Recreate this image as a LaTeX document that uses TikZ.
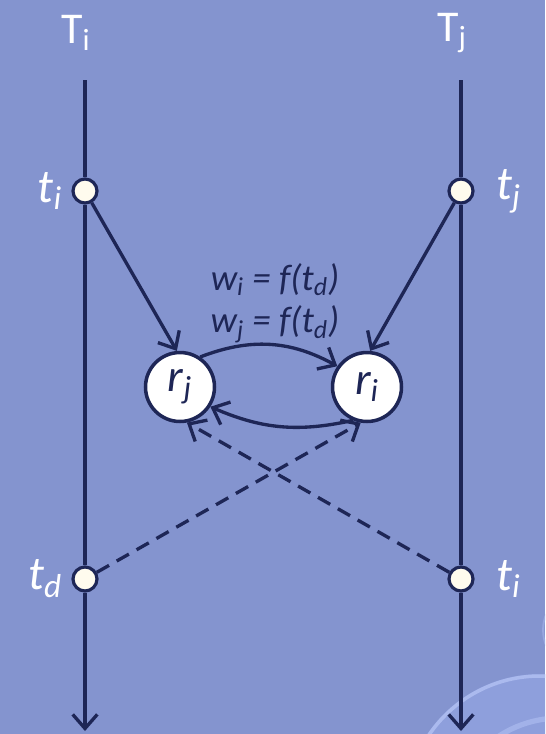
\documentclass[tikz,border=0pt]{standalone}
\usepackage{fontspec}
\setmainfont{Carlito}
\usetikzlibrary{arrows.meta, positioning}
\definecolor{slidebg}{HTML}{8494CF}
\definecolor{linenavy}{HTML}{1E2656}
\definecolor{dotfill}{HTML}{FFFBEE}
\definecolor{ringblue}{HTML}{8E9FDC}
\definecolor{ringedge}{HTML}{ABBAEE}

\begin{document}
\begin{tikzpicture}[x=0.02cm, y=-0.02cm, line width=1.9pt,
          >={Straight Barb[length=8pt, width=14pt]},
          event/.style={circle, draw=linenavy, fill=dotfill, line width=1.8pt, minimum size=0.48cm, inner sep=0pt},
          res/.style={circle, draw=linenavy, fill=white, line width=2pt, minimum size=1.38cm, inner sep=0pt,
                      text=linenavy, font=\itshape\fontsize{26}{26}\selectfont},
          tlab/.style={text=white, font=\itshape\fontsize{27}{27}\selectfont},
          Tlab/.style={text=white, font=\fontsize{25}{25}\selectfont},
          wlab/.style={text=linenavy, align=center, font=\itshape\fontsize{21}{24}\selectfont}]
          % slide background
          \fill[slidebg] (0,0) rectangle (545,734);
          \useasboundingbox (0,0) rectangle (545,734);
          \begin{scope}
            \clip (0,0) rectangle (545,734);
            \fill[ringblue] (540,810) circle (136);
            \draw[ringedge, line width=2pt] (540,810) circle (134);
            \draw[ringedge!70!ringblue, line width=3pt] (560,830) circle (112);
            \draw[ringedge!50!slidebg, line width=1pt] (585,630) circle (42);
          \end{scope}
          % time lines
          \coordinate (Litop) at (85,80);
          \coordinate (Libot) at (85,731);
          \coordinate (Ljtop) at (461,80);
          \coordinate (Ljbot) at (461,731);
          \node[Tlab] (Ti) at (76,33) {T\textsubscript{i}};
          \node[Tlab] (Tj) at (452,33) {T\textsubscript{j}};
          \node[event] (ti) at (85,191) {};
          \node[event] (tj) at (461,191) {};
          \node[event] (td) at (85,579) {};
          \node[event] (tiB) at (461,579) {};
          \draw[->, linenavy] (Litop) -- (ti) -- (td) -- (Libot);
          \draw[->, linenavy] (Ljtop) -- (tj) -- (tiB) -- (Ljbot);
          \node[tlab, left=1pt of ti] (tiL) {t\textsubscript{i}};
          \node[tlab, right=8pt of tj] (tjL) {t\textsubscript{j}};
          \node[tlab, left=1pt of td] (tdL) {t\textsubscript{d}};
          \node[tlab, right=8pt of tiB] (tiBL) {t\textsubscript{i}};
          % replicas
          \node[res] (rj) at (180,387) {r\textsubscript{j}};
          \node[res] (ri) at (367,387) {r\textsubscript{i}};
          \node[wlab] (wl) at (275,303) {w\textsubscript{i} = f(t\textsubscript{d})\\w\textsubscript{j} = f(t\textsubscript{d})};
          \draw[->, linenavy] (ti) -- (rj.95);
          \draw[->, linenavy] (tj) -- (ri.85);
          \draw[->, linenavy] (rj.56) to[bend left=25] (ri.145);
          \draw[->, linenavy] (ri.247) to[bend left=18] (rj.-33);
          \draw[->, linenavy, dash pattern=on 8pt off 5pt] (td) -- (ri.-100);
          \draw[->, linenavy, dash pattern=on 8pt off 5pt] (tiB) -- (rj.-79);
        \end{tikzpicture}
\end{document}
